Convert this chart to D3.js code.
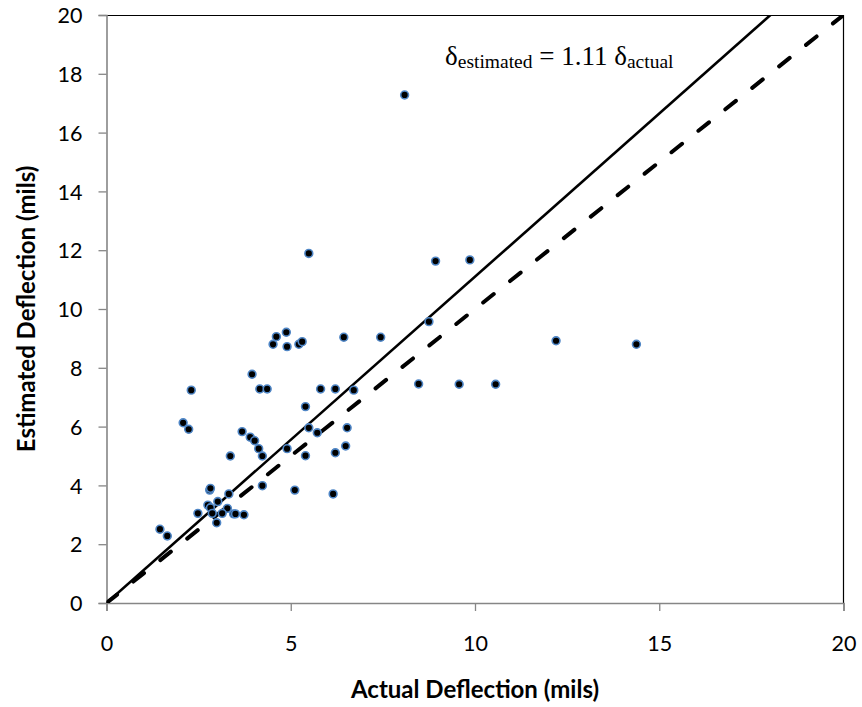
<!DOCTYPE html>
<html>
<head>
<meta charset="utf-8">
<script src="https://cdn.jsdelivr.net/npm/d3@7"></script>
<style>
  html, body { margin: 0; padding: 0; background: #fff; }
  svg { display: block; }
  .tick text { font-family: Lato, "Open Sans", sans-serif; font-size: 21.5px; fill: #000; }
  .axis-title { font-family: Lato, "Open Sans", sans-serif; font-size: 24px; font-weight: bold; fill: #000; }
  .eq { font-family: "Liberation Serif", "Times New Roman", serif; fill: #000; }
</style>
</head>
<body>
<svg id="chart" width="862" height="707"></svg>
<script>
// Measured vs. estimated deflection (mils)
const actual = [
  8.09, 5.49, 8.93, 9.86, 12.2, 14.38,
  4.61, 4.88, 4.52, 4.90, 5.22, 5.31, 6.44, 7.44, 8.75,
  3.95, 4.16, 4.36, 2.30, 5.81, 6.21, 6.71, 8.47, 9.57, 10.56,
  2.08, 2.23, 5.40, 3.68, 3.90, 4.02, 5.49, 6.53, 5.72,
  4.13, 4.90, 4.23, 3.36, 5.40, 6.21, 6.49,
  4.23, 5.11, 2.80, 2.82, 6.15, 3.32, 3.02, 2.75, 2.82, 3.28,
  2.48, 2.87, 3.14, 3.45, 3.50, 3.73, 2.99, 1.45, 1.65
];
const estimated = [
  17.28, 11.89, 11.63, 11.67, 8.92, 8.80,
  9.06, 9.21, 8.80, 8.72, 8.80, 8.89, 9.04, 9.04, 9.57,
  7.78, 7.28, 7.28, 7.24, 7.28, 7.28, 7.24, 7.45, 7.44, 7.44,
  6.13, 5.91, 6.68, 5.83, 5.64, 5.52, 5.96, 5.96, 5.79,
  5.25, 5.25, 5.00, 5.00, 5.01, 5.11, 5.34,
  3.99, 3.84, 3.84, 3.90, 3.71, 3.71, 3.45, 3.33, 3.24, 3.22,
  3.05, 3.05, 3.05, 3.03, 3.03, 3.00, 2.73, 2.51, 2.28
];
const xTicks = [0, 5, 10, 15, 20];
const yTicks = [0, 2, 4, 6, 8, 10, 12, 14, 16, 18, 20];
const fitSlope = 1.11;   // regression line through the origin
const unitSlope = 1.0;   // line of equality
const domainMax = 20;

const svg = d3.select("#chart");
const margin = { left: 106.5, top: 15, right: 862 - 843.5, bottom: 707 - 603 };
const W = 862 - margin.left - margin.right;
const H = 707 - margin.top - margin.bottom;

const x = d3.scaleLinear().domain([0, domainMax]).range([0, W]);
const y = d3.scaleLinear().domain([0, domainMax]).range([H, 0]);

const g = svg.append("g").attr("transform", `translate(${margin.left},${margin.top})`);

// Plot frame: top and right edges
g.append("path")
  .attr("d", `M0,0.5H${W}V${H}`)
  .attr("fill", "none").attr("stroke", "#000").attr("stroke-width", 1.2);

// Axes
const axisColor = "#868686";
const xAxis = g.append("g").attr("transform", `translate(0,${H})`)
  .call(d3.axisBottom(x).tickValues(xTicks).tickSize(8).tickPadding(25).tickFormat(d3.format("d")));
const yAxis = g.append("g")
  .call(d3.axisLeft(y).tickValues(yTicks).tickSize(8).tickPadding(16).tickFormat(d3.format("d")));
[xAxis, yAxis].forEach(a => {
  a.select(".domain").attr("stroke", axisColor).attr("stroke-width", 1.6);
  a.selectAll(".tick line").attr("stroke", axisColor).attr("stroke-width", 1.3);
});
yAxis.selectAll(".tick text").attr("dy", "0.36em");

// Clip lines to the plot area
svg.append("defs").append("clipPath").attr("id", "plot-clip")
  .append("rect").attr("x", 0).attr("y", 0).attr("width", W).attr("height", H);

const lineGen = d3.line().x(d => x(d[0])).y(d => y(d[1]));
const linePts = (k) => [[0, 0], [domainMax / k, domainMax]];

// 1:1 line (dashed), with the dash period fitted so dashes sit at both ends
const unitLine = g.append("path")
  .datum(linePts(unitSlope))
  .attr("clip-path", "url(#plot-clip)")
  .attr("d", lineGen)
  .attr("fill", "none").attr("stroke", "#000")
  .attr("stroke-width", 4).attr("stroke-linecap", "round");
const dashLen = 13.5;
const lineLen = unitLine.node().getTotalLength();
const nDash = Math.round((lineLen - dashLen) / 34.5);
const gapLen = (lineLen - dashLen) / nDash - dashLen;
unitLine.attr("stroke-dasharray", `${dashLen} ${gapLen}`);

// Fitted line (solid)
g.append("path")
  .datum(linePts(fitSlope))
  .attr("clip-path", "url(#plot-clip)")
  .attr("d", lineGen)
  .attr("fill", "none").attr("stroke", "#000")
  .attr("stroke-width", 2.6);

// Data points
g.append("g").selectAll("circle")
  .data(actual.map((a, i) => [a, estimated[i]]))
  .join("circle")
  .attr("cx", d => x(d[0]))
  .attr("cy", d => y(d[1]))
  .attr("r", 3.9)
  .attr("fill", "#000")
  .attr("stroke", "#4f86c6")
  .attr("stroke-width", 1.6);

// Equation label
const eq = svg.append("text").attr("class", "eq")
  .attr("x", 445).attr("y", 65);
eq.append("tspan").attr("font-size", 27).text("δ");
eq.append("tspan").attr("font-size", 19.5).attr("dy", 3).text("estimated");
eq.append("tspan").attr("font-size", 27).attr("dy", -3).text(" = 1.11 δ");
eq.append("tspan").attr("font-size", 19.5).attr("dy", 3).text("actual");

// Axis titles
svg.append("text").attr("class", "axis-title")
  .attr("x", margin.left + W / 2).attr("y", 698)
  .attr("text-anchor", "middle")
  .text("Actual Deflection (mils)");

svg.append("text").attr("class", "axis-title")
  .attr("transform", `translate(35,${margin.top + H / 2}) rotate(-90)`)
  .attr("text-anchor", "middle")
  .text("Estimated Deflection (mils)");
</script>
</body>
</html>
